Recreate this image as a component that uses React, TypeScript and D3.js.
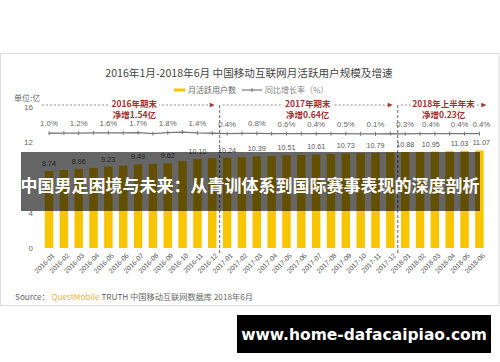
import React from 'react';
import * as d3 from 'd3';

const months = [
  '2016-01','2016-02','2016-03','2016-04','2016-05','2016-06','2016-07','2016-08','2016-09','2016-10','2016-11','2016-12',
  '2017-01','2017-02','2017-03','2017-04','2017-05','2017-06','2017-07','2017-08','2017-09','2017-10','2017-11','2017-12',
  '2018-01','2018-02','2018-03','2018-04','2018-05','2018-06',
];
const users = [
  8.74, 8.85, 8.96, 9.10, 9.23, 9.36, 9.49, 9.55, 9.62, 9.86, 10.10, 10.20,
  10.24, 10.31, 10.39, 10.45, 10.51, 10.56, 10.61, 10.67, 10.73, 10.76, 10.79, 10.84,
  10.88, 10.92, 10.95, 10.99, 11.03, 11.07,
];
const growth = [
  1.0, 1.3, 1.2, 1.5, 1.6, 1.4, 1.7, 0.6, 1.8, 2.5, 1.4, 1.0,
  0.4, 0.7, 0.8, 0.6, 0.6, 0.5, 0.4, 0.6, 0.5, 0.3, 0.1, 0.5,
  0.3, 0.4, 0.4, 0.4, 0.4, 0.4,
];
const labelIdx = [0, 2, 4, 6, 8, 10, 12, 14, 16, 18, 20, 22, 24, 26, 28, 29];
const yTicks = [0, 4, 12, 16];
const periodStart = ['2016-01', '2017-01', '2018-01'];
const periodEnd = ['2016-12', '2017-12', '2018-06'];
const periodTitle = ['2016年期末', '2017年期末', '2018年上半年末'];
const periodNet = ['净增1.54亿', '净增0.64亿', '净增0.23亿'];

const CJK = '"Noto Sans CJK SC", "Noto Sans", sans-serif';
const ARIAL = "Arial, 'Liberation Sans', sans-serif";

export default function App() {
  const x = d3.scaleBand<string>().domain(months).range([38.4, 490]).paddingInner(0.43).paddingOuter(0.43);
  const y = d3.scaleLinear().domain([0, 16]).range([248, 107]);
  const y2 = d3.scaleLinear().domain([0, 2]).range([134, 132.5]);
  const bw = x.bandwidth();
  const cx = (m: string) => (x(m) as number) + bw / 2;

  const line = d3.line<number>().x((_, i) => cx(months[i])).y((d) => y2(d));

  // small nudges for crowded labels at the right end
  const labelShift = (i: number) => (i === 26 ? -4 : i === 28 ? -5 : i === 29 ? 2 : 0);

  const seps = [
    (cx('2016-12') + cx('2017-01')) / 2,
    (cx('2017-12') + cx('2018-01')) / 2,
  ];
  const arrowY = y(16) - 2;
  const spans = [
    [cx(periodStart[0]) - 7, seps[0] - 5],
    [seps[0] + 3, seps[1] - 5],
    [seps[1] + 3, cx(periodEnd[2]) + 7],
  ];

  return (
    <svg width={500} height={362} style={{ position: 'absolute', left: 0, top: 0, background: '#fff' }}>
      <rect x={0.5} y={53.5} width={498.5} height={252} fill="#fff" stroke="#dcdcdc" />
      <text x={249} y={77} textAnchor="middle" fontSize={10.6} fill="#444" fontFamily={CJK}>
        2016年1月-2018年6月 中国移动互联网月活跃用户规模及增速
      </text>
      {/* legend */}
      <rect x={174} y={88.5} width={11} height={3} fill="#f7c600" />
      <text x={188} y={93} fontSize={8} fill="#666" fontFamily={CJK}>月活跃用户数</text>
      <line x1={242} x2={262} y1={90} y2={90} stroke="#777" strokeWidth={1.2} />
      <line x1={252} x2={252} y1={88} y2={92} stroke="#777" strokeWidth={1} />
      <text x={265} y={93} fontSize={8} fill="#888" fontFamily={CJK}>同比增长率（%）</text>

      {/* y axis */}
      <text x={14} y={101} fontSize={8} fill="#666" fontFamily={CJK}>单位:亿</text>
      {yTicks.map((t) => (
        <text key={t} x={33} y={y(t) + 3} textAnchor="end" fontSize={8} fill="#666" fontFamily={ARIAL}>{t}</text>
      ))}

      {/* bars */}
      {months.map((m, i) => (
        <rect key={m} x={x(m)} y={y(users[i])} width={bw} height={y(0) - y(users[i])} fill="#f7c600" />
      ))}
      {labelIdx.map((i) => (
        <text key={'v' + i} x={cx(months[i]) + labelShift(i)} y={y(users[i]) - 5} textAnchor="middle" fontSize={7.2} fill="#555" fontFamily={ARIAL}>
          {users[i].toFixed(2)}
        </text>
      ))}

      {/* separators */}
      {seps.map((s, i) => (
        <line key={'s' + i} x1={s} x2={s} y1={arrowY} y2={254} stroke="#666" strokeWidth={1} strokeDasharray="3,2" />
      ))}

      {/* period arrows */}
      {spans.map(([a, b], i) => {
        const mid = (a + b) / 2 + (i === 0 ? 6 : 0);
        const tw = periodTitle[i].length * 6.2 + 6;
        return (
          <g key={'p' + i}>
            <line x1={a} x2={b - 4} y1={arrowY} y2={arrowY} stroke="#777" strokeWidth={0.8} strokeDasharray="2,2" />
            <path d={`M${b - 5},${arrowY - 2.2}L${b},${arrowY}L${b - 5},${arrowY + 2.2}Z`} fill="#a33" />
            <rect x={mid - tw / 2} y={arrowY - 6} width={tw} height={8} fill="#fff" />
            <text x={mid} y={arrowY + 1.5} textAnchor="middle" fontSize={8.5} fontWeight="bold" fill="#a3302f" fontFamily={CJK}>{periodTitle[i]}</text>
            <text x={mid} y={arrowY + 12.5} textAnchor="middle" fontSize={8.5} fontWeight="bold" fill="#a3302f" fontFamily={CJK}>{periodNet[i]}</text>
          </g>
        );
      })}

      {/* growth line */}
      <path d={line(growth) as string} fill="none" stroke="#777" strokeWidth={1.3} />
      {growth.map((g, i) => (
        <line key={'m' + i} x1={cx(months[i])} x2={cx(months[i])} y1={y2(g) - 2} y2={y2(g) + 2} stroke="#777" strokeWidth={1} />
      ))}
      {labelIdx.map((i) => (
        <text key={'g' + i} x={cx(months[i]) + labelShift(i)} y={y2(growth[i]) - 7} textAnchor="middle" fontSize={7.8} fill="#666" fontFamily={ARIAL}>
          {growth[i].toFixed(1)}%
        </text>
      ))}

      {/* x labels */}
      {months.map((m) => (
        <text key={'x' + m} transform={`translate(${cx(m) + 6},${256}) rotate(-45)`} textAnchor="end" fontSize={6.8} fill="#555" fontFamily={ARIAL}>{m}</text>
      ))}

      {/* source */}
      <text x={15} y={300} fontSize={8.2} fill="#666" fontFamily={CJK}>
        Source： <tspan fill="#e9b92a">QuestMobile</tspan> TRUTH 中国移动互联网数据库 2018年6月
      </text>

      {/* banner */}
      <rect x={21} y={152} width={459} height={59} fill="#000" fillOpacity={0.6} />
      <text x={250} y={192} textAnchor="middle" fontSize={17} fontWeight="bold" fill="#fff" fontFamily={CJK}>
        中国男足困境与未来：从青训体系到国际赛事表现的深度剖析
      </text>

      {/* watermark */}
      <rect x={237} y={315} width={254} height={38} fill="#000" />
      <text x={364} y={339.5} textAnchor="middle" fontSize={15.5} fontWeight="bold" fill="#fff" fontFamily="'DejaVu Sans', sans-serif">
        www.home-dafacaipiao.com
      </text>
    </svg>
  );
}
